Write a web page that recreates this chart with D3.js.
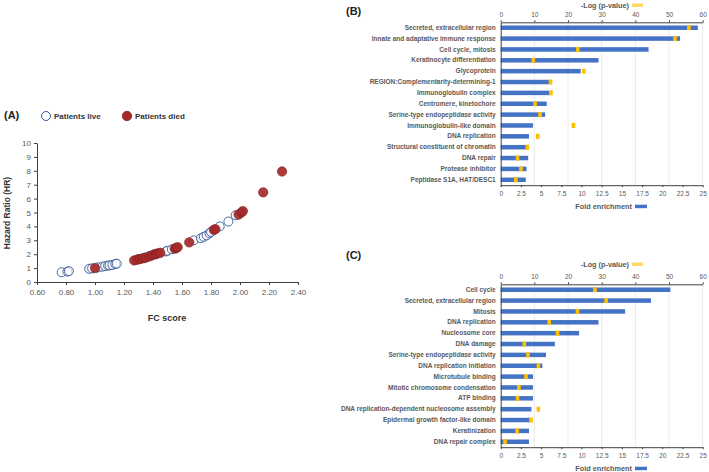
<!DOCTYPE html>
<html><head><meta charset="utf-8">
<script src="https://cdn.jsdelivr.net/npm/d3@7"></script>
<style>
body{margin:0;background:#fff;}
text{font-family:"Liberation Sans",Arial,sans-serif;}
</style></head>
<body><svg id="c" width="709" height="472"></svg>
<script>
// ---- Panel A data ----
const liveFC = [0.77,0.81,0.82,0.96,0.98,1.02,1.05,1.07,1.09,1.10,1.12,1.14,1.15,1.30,1.34,1.37,1.41,1.49,1.50,1.53,1.68,1.73,1.75,1.77,1.79,1.80,1.86,1.92,1.97];
const liveHR = [0.70,0.75,0.78,0.95,0.98,1.05,1.10,1.15,1.18,1.20,1.22,1.30,1.32,1.65,1.75,1.85,2.00,2.20,2.25,2.35,3.00,3.15,3.25,3.35,3.50,3.60,4.00,4.35,4.80];
const diedFC = [1.00,1.27,1.29,1.31,1.33,1.35,1.38,1.40,1.42,1.43,1.45,1.55,1.56,1.57,1.65,1.82,1.83,1.99,2.01,2.02,2.16,2.29];
const diedHR = [1.00,1.55,1.60,1.65,1.70,1.75,1.85,1.95,2.00,2.05,2.10,2.40,2.45,2.50,2.85,3.75,3.80,4.85,5.00,5.10,6.45,7.95];
const xTicksA = [0.6,0.8,1.0,1.2,1.4,1.6,1.8,2.0,2.2,2.4];
const yTicksA = [0,1,2,3,4,5,6,7,8,9,10];

// ---- Panel B data ----
const catB = ["Secreted, extracellular region","Innate and adaptative immune response","Cell cycle,  mitosis","Keratinocyte differentiation","Glycoprotein","REGION:Complementarity-determining-1","Immunoglobulin complex","Centromere, kinetochore","Serine-type endopeptidase activity","Immunoglobulin-like domain","DNA replication","Structural constituent of chromatin","DNA repair","Protease inhibitor","Peptidase S1A, HAT/DESC1"];
const foldB = [24.4,22.2,18.3,12.1,9.9,6.0,6.0,5.7,5.5,4.0,3.5,3.5,3.4,3.2,3.1];
const logpB = [55.9,51.8,22.9,9.7,24.7,14.8,14.9,10.2,11.7,21.6,11.0,7.9,5.0,6.0,4.5];

// ---- Panel C data ----
const catC = ["Cell cycle","Secreted, extracellular region","Mitosis","DNA replication","Nucleosome core","DNA damage","Serine-type endopeptidase activity","DNA replication initiation","Microtubule binding","Mitotic chromosome condensation","ATP binding","DNA replication-dependent nucleosome assembly","Epidermal growth factor-like domain","Keratinization","DNA repair complex"];
const foldC = [21.0,18.6,15.4,12.1,9.7,6.7,5.6,5.15,4.0,4.0,4.0,3.8,3.6,3.5,3.5];
const logpC = [28.0,31.3,22.8,14.4,16.9,7.0,8.1,11.2,7.5,5.4,5.0,11.2,9.0,4.9,1.3];

const topTicks = [0,10,20,30,40,50,60];
const botTicks = [0,2.5,5,7.5,10,12.5,15,17.5,20,22.5,25];

const svg = d3.select("#c");
const gray = "#595959", axisCol = "#404040";
const liveStroke = "#35579a", diedFill = "#a52a2a", diedStroke = "#7d1c1c";

// ================= Panel A =================
const xA = d3.scaleLinear().domain([0.6,2.4]).range([37,298]);
const yA = d3.scaleLinear().domain([0,10]).range([282,143]);
const gA = svg.append("g");
gA.append("text").attr("x",4).attr("y",119).attr("font-size",11).attr("font-weight","bold").attr("fill","#222").text("(A)");
gA.append("circle").attr("cx",46).attr("cy",116).attr("r",4.5).attr("fill","#fff").attr("stroke",liveStroke).attr("stroke-width",1);
gA.append("text").attr("x",54).attr("y",119).attr("font-size",8).attr("font-weight","bold").attr("fill","#333").text("Patients live");
gA.append("circle").attr("cx",127).attr("cy",116).attr("r",4.7).attr("fill",diedFill).attr("stroke",diedStroke).attr("stroke-width",0.8);
gA.append("text").attr("x",135).attr("y",119).attr("font-size",8).attr("font-weight","bold").attr("fill","#333").text("Patients died");

const axA = gA.append("g").attr("transform","translate(0,282)")
  .call(d3.axisBottom(xA).tickValues(xTicksA).tickFormat(d3.format(".2f")).tickSize(3).tickSizeOuter(0));
const ayA = gA.append("g").attr("transform","translate(37,0)")
  .call(d3.axisLeft(yA).tickValues(yTicksA).tickFormat(d3.format("d")).tickSize(3).tickSizeOuter(0));
[axA,ayA].forEach(a=>{
  a.selectAll("path").attr("stroke",axisCol);
  a.selectAll("line").attr("stroke",axisCol);
  a.selectAll("text").attr("fill",gray).attr("font-size",8).style("font-family","Liberation Sans, Arial, sans-serif");
});
axA.selectAll("text").attr("dy","0.9em");
gA.append("text").attr("x",167).attr("y",321).attr("text-anchor","middle").attr("font-size",9).attr("font-weight","bold").attr("fill","#333").text("FC score");
gA.append("text").attr("transform","translate(10,213) rotate(-90)").attr("text-anchor","middle").attr("font-size",8.5).attr("font-weight","bold").attr("fill","#333").text("Hazard Ratio (HR)");

const live = liveFC.map((v,i)=>({x:v,y:liveHR[i]}));
const died = diedFC.map((v,i)=>({x:v,y:diedHR[i]}));
gA.append("g").selectAll("circle").data(live).join("circle")
  .attr("cx",d=>xA(d.x)).attr("cy",d=>yA(d.y)).attr("r",4.5)
  .attr("fill","#fff").attr("fill-opacity",0.6).attr("stroke",liveStroke).attr("stroke-width",0.9);
gA.append("g").selectAll("circle").data(died).join("circle")
  .attr("cx",d=>xA(d.x)).attr("cy",d=>yA(d.y)).attr("r",4.7)
  .attr("fill",diedFill).attr("fill-opacity",0.92).attr("stroke",diedStroke).attr("stroke-width",0.6);

// ================= Panels B & C =================
function barPanel(label, labelY, top, cats, fold, logp, titleY){
  const x0 = 500.7, x1 = 702.7;
  const bottom = top + 10.86*cats.length;
  const xF = d3.scaleLinear().domain([0,25]).range([x0,x1]);
  const xP = d3.scaleLinear().domain([0,60]).range([x0,x1]);
  const y = d3.scaleBand().domain(cats).range([top,bottom]);
  const g = svg.append("g");
  g.append("text").attr("x",346).attr("y",labelY).attr("font-size",11).attr("font-weight","bold").attr("fill","#222").text(label);
  // gridlines
  g.append("g").selectAll("line").data(topTicks.slice(1)).join("line")
    .attr("x1",d=>xP(d)).attr("x2",d=>xP(d)).attr("y1",top).attr("y2",bottom)
    .attr("stroke","#e4e4e4").attr("stroke-width",0.8);
  // blue bars
  const bh = 4.5;
  g.append("g").selectAll("rect").data(cats).join("rect")
    .attr("x",x0).attr("y",d=>y(d)+y.bandwidth()/2-bh/2)
    .attr("width",(d,i)=>xF(fold[i])-x0).attr("height",bh).attr("fill","#4472c4");
  // yellow markers
  g.append("g").selectAll("rect").data(cats).join("rect")
    .attr("x",(d,i)=>xP(logp[i])-1.8).attr("y",d=>y(d)+y.bandwidth()/2-bh/2-0.3)
    .attr("width",3.6).attr("height",bh+0.6).attr("fill","#ffc000");
  // axes
  const at = g.append("g").attr("transform",`translate(0,${top})`)
    .call(d3.axisTop(xP).tickValues(topTicks).tickSize(2).tickSizeOuter(0));
  const ab = g.append("g").attr("transform",`translate(0,${bottom})`)
    .call(d3.axisBottom(xF).tickValues(botTicks).tickFormat(d=>String(d)).tickSize(2).tickSizeOuter(0));
  const al = g.append("g").attr("transform",`translate(${x0},0)`)
    .call(d3.axisLeft(y).tickSize(0).tickPadding(5));
  [at,ab,al].forEach(a=>{
    a.selectAll("path").attr("stroke",axisCol);
    a.selectAll("line").attr("stroke",axisCol);
    a.selectAll("text").attr("fill",gray).attr("font-size",6.5).style("font-family","Liberation Sans, Arial, sans-serif");
  });
  al.selectAll("text").attr("font-weight","bold");
  ab.selectAll("text").attr("dy","0.9em");
  // legends
  g.append("text").attr("x",629).attr("y",titleY+2.5).attr("text-anchor","end").attr("font-size",7.3).attr("font-weight","bold").attr("fill",gray).text("-Log (p-value)");
  g.append("rect").attr("x",632).attr("y",titleY-1.5).attr("width",11).attr("height",3.5).attr("fill","#ffd966");
  const fy = bottom + 21;
  g.append("text").attr("x",632).attr("y",fy+2.5).attr("text-anchor","end").attr("font-size",7.3).attr("font-weight","bold").attr("fill",gray).text("Fold enrichment");
  g.append("rect").attr("x",635).attr("y",fy-1.5).attr("width",12).attr("height",3.5).attr("fill","#4472c4");
}
barPanel("(B)", 15, 22.3, catB, foldB, logpB, 5);
barPanel("(C)", 259, 284.3, catC, foldC, logpC, 264);
</script></body></html>
